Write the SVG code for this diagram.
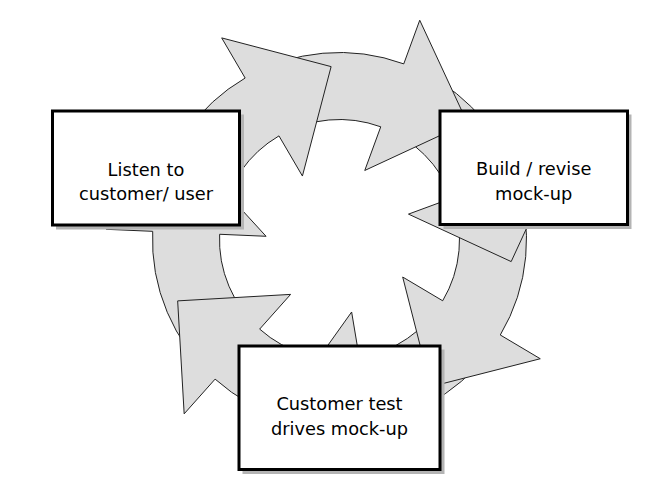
<svg xmlns="http://www.w3.org/2000/svg" width="670" height="480" viewBox="0 0 670 480">
<style>
.arr{fill:#dddddd;stroke:#222222;stroke-width:1;stroke-linejoin:miter}
.shadow{fill:#b4b4b4}
.box{fill:#ffffff;stroke:#000000;stroke-width:3}
.lbl{font-family:"DejaVu Sans","Liberation Sans",sans-serif;font-size:17.8px;fill:#000000;text-anchor:middle}
</style>
<rect x="0" y="0" width="670" height="480" fill="#ffffff"/>
<g id="connectors">
<path class="arr" d="M 215.10 379.12 A 187 187 0 0 1 152.68 231.34 L 106.22 229.31 L 189.64 152.88 L 266.07 236.29 L 219.61 234.27 A 120 120 0 0 0 259.67 329.10 Z"/>
<path class="arr" d="M 370.36 423.94 A 187 187 0 0 1 215.10 379.12 L 184.17 413.84 L 177.66 300.89 L 290.61 294.38 L 259.67 329.10 A 120 120 0 0 0 359.31 357.85 Z"/>
<path class="arr" d="M 500.29 334.99 A 187 187 0 0 1 370.36 423.94 L 378.04 469.80 L 285.94 404.10 L 351.63 311.99 L 359.31 357.85 A 120 120 0 0 0 442.68 300.78 Z"/>
<path class="arr" d="M 515.00 174.93 A 187 187 0 0 1 500.29 334.99 L 540.27 358.74 L 430.64 386.68 L 402.70 277.03 L 442.68 300.78 A 120 120 0 0 0 452.12 198.06 Z"/>
<path class="arr" d="M 403.76 63.89 A 187 187 0 0 1 515.00 174.93 L 558.64 158.87 L 511.18 261.58 L 408.48 214.12 L 452.12 198.06 A 120 120 0 0 0 380.74 126.81 Z"/>
<path class="arr" d="M 245.15 78.04 A 187 187 0 0 1 403.76 63.89 L 419.74 20.22 L 467.38 122.84 L 364.76 170.48 L 380.74 126.81 A 120 120 0 0 0 278.96 135.89 Z"/>
<path class="arr" d="M 155.34 207.03 A 187 187 0 0 1 245.15 78.04 L 221.69 37.90 L 331.12 66.61 L 302.42 176.04 L 278.96 135.89 A 120 120 0 0 0 221.32 218.66 Z"/>
</g>
<g id="listen">
<rect class="shadow" x="56" y="114.5" width="188" height="115"/>
<rect class="box" x="52.5" y="111" width="187" height="114"/>
<text class="lbl" x="146" y="176">Listen to</text>
<text class="lbl" x="146" y="199.5">customer/ user</text>
</g>
<g id="build">
<rect class="shadow" x="443.5" y="114.5" width="188" height="114.5"/>
<rect class="box" x="440" y="111" width="187.5" height="113.5"/>
<text class="lbl" x="533.7" y="175">Build / revise</text>
<text class="lbl" x="533.7" y="199.5">mock-up</text>
</g>
<g id="customer">
<rect class="shadow" x="242.5" y="349.5" width="202" height="124.5"/>
<rect class="box" x="239" y="346" width="201" height="123.5"/>
<text class="lbl" x="339.5" y="410">Customer test</text>
<text class="lbl" x="339.5" y="434.5">drives mock-up</text>
</g>
</svg>
